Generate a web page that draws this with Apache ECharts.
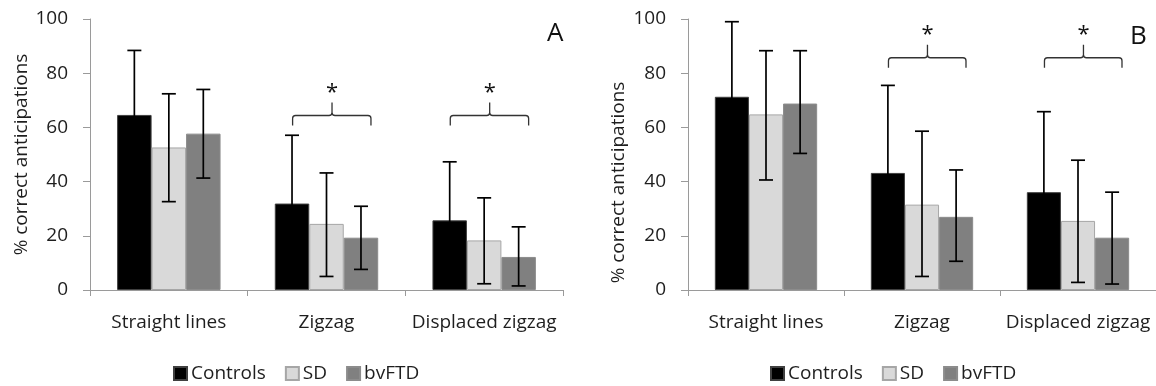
<!DOCTYPE html>
<html>
<head>
<meta charset="utf-8">
<script src="https://cdn.jsdelivr.net/npm/echarts@6/dist/echarts.min.js"></script>
<style>
html,body{margin:0;padding:0;background:#fff;}
#chart{width:1156px;height:386px;}
</style>
</head>
<body>
<div id="chart"></div>
<script>
// ---------- data ----------
const categories = ['Straight lines', 'Zigzag', 'Displaced zigzag'];
const groups = ['Controls', 'SD', 'bvFTD'];
const yTicks = { min: 0, max: 100, interval: 20 };

// Panel A
const meanA_Controls = [64.6, 31.9, 25.7];
const hiA_Controls   = [88.4, 57.1, 47.3];
const loA_Controls   = [40.8, 6.7, 4.1];
const meanA_SD       = [52.6, 24.4, 18.3];
const hiA_SD         = [72.4, 43.2, 34.0];
const loA_SD         = [32.6, 5.0, 2.3];
const meanA_bvFTD    = [57.7, 19.3, 12.2];
const hiA_bvFTD      = [74.0, 30.9, 23.3];
const loA_bvFTD      = [41.3, 7.6, 1.5];

// Panel B
const meanB_Controls = [71.3, 43.2, 36.1];
const hiB_Controls   = [99.0, 75.5, 65.8];
const loB_Controls   = [43.6, 10.9, 6.4];
const meanB_SD       = [64.8, 31.5, 25.5];
const hiB_SD         = [88.3, 58.6, 47.9];
const loB_SD         = [40.6, 5.0, 2.8];
const meanB_bvFTD    = [68.8, 27.0, 19.3];
const hiB_bvFTD      = [88.3, 44.3, 36.1];
const loB_bvFTD      = [50.4, 10.6, 2.2];

// significance brackets: [category index, level of bracket]
const bracketsA = [[1, 64.4], [2, 64.4]];
const bracketsB = [[1, 85.7], [2, 85.7]];

const panelLabels = ['A', 'B'];
const yTitle = '% correct anticipations';

// ---------- styles ----------
const FONT = 'Open Sans';
const TXT = '#1e1e1e';
const AXIS = '#9a9a9a';
const CAT_GAP = 0.344;
const barStyles = {
  Controls: { color: '#000000', borderColor: '#404040', borderWidth: 1 },
  SD:       { color: '#d9d9d9', borderColor: '#a6a6a6', borderWidth: 1 },
  bvFTD:    { color: '#808080', borderColor: '#8c8c8c', borderWidth: 1 }
};

const panels = [
  { means: [meanA_Controls, meanA_SD, meanA_bvFTD], his: [hiA_Controls, hiA_SD, hiA_bvFTD], los: [loA_Controls, loA_SD, loA_bvFTD], brackets: bracketsA },
  { means: [meanB_Controls, meanB_SD, meanB_bvFTD], his: [hiB_Controls, hiB_SD, hiB_bvFTD], los: [loB_Controls, loB_SD, loB_bvFTD], brackets: bracketsB }
];

function errorRenderer(k) {
  return function (params, api) {
    const cat = api.value(0);
    const p1 = api.coord([cat, api.value(1)]);
    const p2 = api.coord([cat, api.value(2)]);
    const bw = api.size([1, 0])[0];
    const barW = bw * (1 - CAT_GAP) / 3;
    const x = p1[0] + (k - 1) * barW;
    const cap = 7;
    const style = { stroke: '#000', lineWidth: 1.7, fill: null };
    return {
      type: 'group',
      children: [
        { type: 'line', shape: { x1: x, y1: p1[1], x2: x, y2: p2[1] }, style },
        { type: 'line', shape: { x1: x - cap, y1: p2[1], x2: x + cap, y2: p2[1] }, style },
        { type: 'line', shape: { x1: x - cap, y1: p1[1], x2: x + cap, y2: p1[1] }, style }
      ]
    };
  };
}

function bracketRenderer(params, api) {
  const c = api.coord([api.value(0), api.value(1)]);
  const bw = api.size([1, 0])[0];
  const L = c[0] - 0.215 * bw, R = c[0] + 0.282 * bw, M = c[0] + 0.035 * bw;
  const y = c[1], r = 3, drop = 10, rise = 13;
  const path = [
    'M', L, y + drop, 'L', L, y + r, 'Q', L, y, L + r, y,
    'L', M - r, y, 'Q', M, y, M, y - r, 'L', M, y - rise,
    'M', M, y - r, 'Q', M, y, M + r, y,
    'L', R - r, y, 'Q', R, y, R, y + r, 'L', R, y + drop
  ].join(' ');
  return {
    type: 'group',
    children: [
      { type: 'path', shape: { pathData: path }, style: { stroke: '#333', lineWidth: 1.3, fill: null } },
      { type: 'text', style: { text: '*', x: M, y: y - 23, align: 'center', verticalAlign: 'middle', fontSize: 22, fontFamily: FONT, fill: '#111' } }
    ]
  };
}

const grids = [
  { left: 90, top: 19, width: 473, height: 271 },
  { left: 688, top: 19, width: 473, height: 271 }
];

const xAxes = grids.map((g, i) => ({
  type: 'category', gridIndex: i, data: categories,
  axisLine: { lineStyle: { color: AXIS, width: 1 } },
  axisTick: { show: true, length: 6, lineStyle: { color: AXIS } },
  axisLabel: { color: TXT, fontSize: 19, fontFamily: FONT, margin: 23, interval: 0 }
}));

const yAxes = grids.map((g, i) => ({
  type: 'value', gridIndex: i, min: yTicks.min, max: yTicks.max, interval: yTicks.interval,
  splitLine: { show: false },
  axisLine: { show: true, lineStyle: { color: AXIS, width: 1 } },
  axisTick: { show: true, length: 7, lineStyle: { color: AXIS } },
  axisLabel: { color: TXT, fontSize: 19, fontFamily: FONT, margin: 22 },
  name: yTitle, nameLocation: 'middle', nameGap: i === 0 ? 58 : 60,
  nameTextStyle: { color: TXT, fontSize: 19, fontFamily: FONT, padding: i === 0 ? [0, 0, 0, 0] : [0, 56, 0, 0] }
}));

const series = [];
panels.forEach((p, pi) => {
  groups.forEach((g, k) => {
    series.push({
      name: g, type: 'bar', xAxisIndex: pi, yAxisIndex: pi,
      data: p.means[k], barGap: '0%', barCategoryGap: (CAT_GAP * 100) + '%',
      itemStyle: barStyles[g], emphasis: { disabled: true }, animation: false
    });
  });
  groups.forEach((g, k) => {
    series.push({
      type: 'custom', xAxisIndex: pi, yAxisIndex: pi, z: 5, clip: false,
      renderItem: errorRenderer(k),
      data: categories.map((c, ci) => [ci, p.los[k][ci], p.his[k][ci]]),
      animation: false, silent: true
    });
  });
  series.push({
    type: 'custom', xAxisIndex: pi, yAxisIndex: pi, z: 6, clip: false,
    renderItem: bracketRenderer, data: p.brackets, animation: false, silent: true
  });
});

const legendBase = {
  data: groups, itemWidth: 13, itemHeight: 13, itemGap: 19, icon: 'rect', padding: 0,
  textStyle: { color: TXT, fontSize: 19, fontFamily: FONT, padding: [0, 0, 0, -1] },
  selectedMode: false, top: 364
};

const chart = echarts.init(document.getElementById('chart'), null, { renderer: 'canvas' });
chart.setOption({
  animation: false,
  grid: grids,
  xAxis: xAxes,
  yAxis: yAxes,
  legend: [Object.assign({ left: 173 }, legendBase), Object.assign({ left: 770 }, legendBase)],
  graphic: [
    { type: 'text', left: 547, top: 21, style: { text: panelLabels[0], fontSize: 26, fontFamily: FONT, fill: '#111' } },
    { type: 'text', left: 1130, top: 24, style: { text: panelLabels[1], fontSize: 26, fontFamily: FONT, fill: '#111' } }
  ],
  series: series
});
</script>
</body>
</html>
